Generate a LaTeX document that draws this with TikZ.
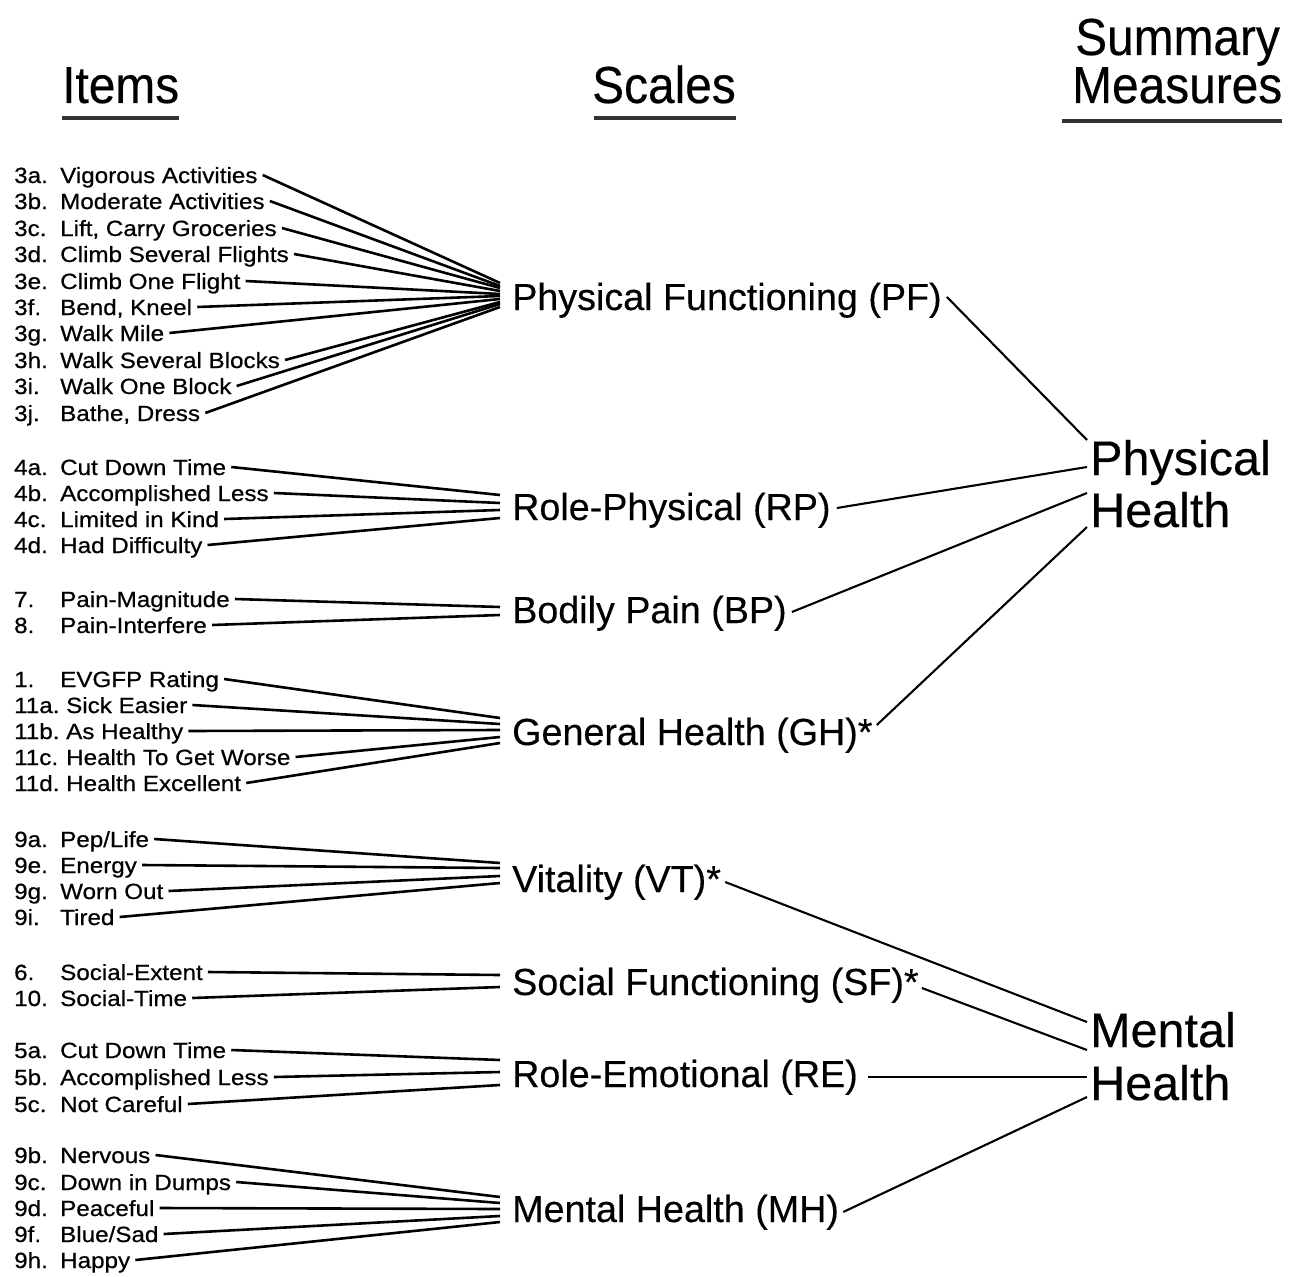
\documentclass[tikz,border=0pt]{standalone}
\usepackage{fontspec}
\setmainfont{Liberation Sans}
\newfontfamily\itemfont[FakeStretch=1.1,FakeBold=0.6]{Liberation Sans}
\newfontfamily\scalefont[FakeBold=0.3]{Liberation Sans}
\newfontfamily\headfont[FakeStretch=0.92,FakeBold=0.3]{Liberation Sans}
\usetikzlibrary{calc}
\tikzset{
 itemtxt/.style={anchor=base west, inner sep=0pt, font=\itemfont\fontsize{22}{22}\selectfont},
 scaletxt/.style={anchor=base west, inner sep=0pt, font=\scalefont\fontsize{37.7}{37.7}\selectfont},
 sumtxt/.style={anchor=base west, inner sep=0pt, font=\scalefont\fontsize{48.5}{48.5}\selectfont},
 headtxt/.style={anchor=base west, inner sep=0pt, font=\headfont\fontsize{52}{52}\selectfont},
 iline/.style={line width=2.6pt},
 sline/.style={line width=2.1pt},
 uline/.style={line width=3.5pt, black!80},
}
\newcommand\itm[5]{%
 \node[itemtxt] (#1n) at (14,#4) {#2};
 \node[itemtxt] (#1) at (#5,#4) {#3};}
\newcommand\lk[3]{\draw[iline] ($(#1.base east)+(5,-8)$) -- ($(#2.base west)+(-12,#3)$);}
\begin{document}
\begin{tikzpicture}[x=1pt,y=-1pt]
\path[use as bounding box, fill=white] (0,0) rectangle (1300,1276);

% headers
\node[headtxt] (hitems) at (62,103) {Items};
\node[headtxt] (hscales) at (592,103) {Scales};
\node[headtxt] (hsum1) at (1075,55) {Summary};
\node[headtxt] (hsum2) at (1072,103) {Measures};
\draw[uline] ($(hitems.base west)+(0,15)$) -- ($(hitems.base east)+(0,15)$);
\draw[uline] ($(hscales.base west)+(2,15)$) -- ($(hscales.base east)+(0,15)$);
\draw[uline] ($(hsum2.base west)+(-10,18)$) -- ($(hsum2.base east)+(0,18)$);

% scales
\node[scaletxt] (pf) at (512,310) {Physical Functioning (PF)};
\node[scaletxt] (rp) at (512,520) {Role-Physical (RP)};
\node[scaletxt] (bp) at (512,623) {Bodily Pain (BP)};
\node[scaletxt] (gh) at (512,745) {General Health (GH)*};
\node[scaletxt] (vt) at (512,892) {Vitality (VT)*};
\node[scaletxt] (sf) at (512,995) {Social Functioning (SF)*};
\node[scaletxt] (re) at (512,1087) {Role-Emotional (RE)};
\node[scaletxt] (mh) at (512,1222) {Mental Health (MH)};

% summary
\node[sumtxt] (ph1) at (1090,475) {Physical};
\node[sumtxt] (ph2) at (1090,527) {Health};
\node[sumtxt] (mt1) at (1090,1047) {Mental};
\node[sumtxt] (mt2) at (1090,1100) {Health};

% items PF
\itm{i3a}{3a.}{Vigorous Activities}{183}{60}
\itm{i3b}{3b.}{Moderate Activities}{209}{60}
\itm{i3c}{3c.}{Lift, Carry Groceries}{236}{60}
\itm{i3d}{3d.}{Climb Several Flights}{262}{60}
\itm{i3e}{3e.}{Climb One Flight}{289}{60}
\itm{i3f}{3f.}{Bend, Kneel}{315}{60}
\itm{i3g}{3g.}{Walk Mile}{341}{60}
\itm{i3h}{3h.}{Walk Several Blocks}{368}{60}
\itm{i3i}{3i.}{Walk One Block}{394}{60}
\itm{i3j}{3j.}{Bathe, Dress}{421}{60}
% RP
\itm{i4a}{4a.}{Cut Down Time}{475}{60}
\itm{i4b}{4b.}{Accomplished Less}{501}{60}
\itm{i4c}{4c.}{Limited in Kind}{527}{60}
\itm{i4d}{4d.}{Had Difficulty}{553}{60}
% BP
\itm{i7}{7.}{Pain-Magnitude}{607}{60}
\itm{i8}{8.}{Pain-Interfere}{633}{60}
% GH
\itm{i1}{1.}{EVGFP Rating}{687}{60}
\itm{i11a}{11a.}{Sick Easier}{713}{66}
\itm{i11b}{11b.}{As Healthy}{739}{66}
\itm{i11c}{11c.}{Health To Get Worse}{765}{66}
\itm{i11d}{11d.}{Health Excellent}{791}{66}
% VT
\itm{i9a}{9a.}{Pep/Life}{847}{60}
\itm{i9e}{9e.}{Energy}{873}{60}
\itm{i9g}{9g.}{Worn Out}{899}{60}
\itm{i9i}{9i.}{Tired}{925}{60}
% SF
\itm{i6}{6.}{Social-Extent}{980}{60}
\itm{i10}{10.}{Social-Time}{1006}{60}
% RE
\itm{i5a}{5a.}{Cut Down Time}{1058}{60}
\itm{i5b}{5b.}{Accomplished Less}{1085}{60}
\itm{i5c}{5c.}{Not Careful}{1112}{60}
% MH
\itm{i9b}{9b.}{Nervous}{1163}{60}
\itm{i9c}{9c.}{Down in Dumps}{1190}{60}
\itm{i9d}{9d.}{Peaceful}{1216}{60}
\itm{i9f}{9f.}{Blue/Sad}{1242}{60}
\itm{i9h}{9h.}{Happy}{1268}{60}

% item -> scale links
\lk{i3a}{pf}{-27}\lk{i3b}{pf}{-24}\lk{i3c}{pf}{-22}\lk{i3d}{pf}{-19}\lk{i3e}{pf}{-16}
\lk{i3f}{pf}{-14}\lk{i3g}{pf}{-11}\lk{i3h}{pf}{-8}\lk{i3i}{pf}{-6}\lk{i3j}{pf}{-3}
\lk{i4a}{rp}{-25}\lk{i4b}{rp}{-17}\lk{i4c}{rp}{-10}\lk{i4d}{rp}{-2}
\lk{i7}{bp}{-16}\lk{i8}{bp}{-8}
\lk{i1}{gh}{-27}\lk{i11a}{gh}{-21}\lk{i11b}{gh}{-15}\lk{i11c}{gh}{-8}\lk{i11d}{gh}{-2}
\lk{i9a}{vt}{-29}\lk{i9e}{vt}{-24}\lk{i9g}{vt}{-16}\lk{i9i}{vt}{-9}
\lk{i6}{sf}{-20}\lk{i10}{sf}{-8}
\lk{i5a}{re}{-27}\lk{i5b}{re}{-15}\lk{i5c}{re}{-2}
\lk{i9b}{mh}{-25}\lk{i9c}{mh}{-19}\lk{i9d}{mh}{-13}\lk{i9f}{mh}{-6}\lk{i9h}{mh}{0}

% scale -> summary links
\draw[sline] ($(pf.base east)+(5,-13)$) -- ($(ph1.base west)+(-3,-35)$);
\draw[sline] ($(rp.base east)+(6,-12)$) -- ($(ph1.base west)+(-3,-8)$);
\draw[sline] ($(bp.base east)+(5,-11)$) -- ($(ph2.base west)+(-3,-34)$);
\draw[sline] ($(gh.base east)+(4,-20)$) -- ($(ph2.base west)+(-3,0)$);
\draw[sline] ($(vt.base east)+(4,-10)$) -- ($(mt1.base west)+(-3,-25)$);
\draw[sline] ($(sf.base east)+(3,-7)$) -- ($(mt1.base west)+(-3,3)$);
\draw[sline] ($(re.base east)+(10,-10)$) -- ($(mt2.base west)+(-3,-23)$);
\draw[sline] ($(mh.base east)+(4,-10)$) -- ($(mt2.base west)+(-3,-3)$);
\end{tikzpicture}
\end{document}
